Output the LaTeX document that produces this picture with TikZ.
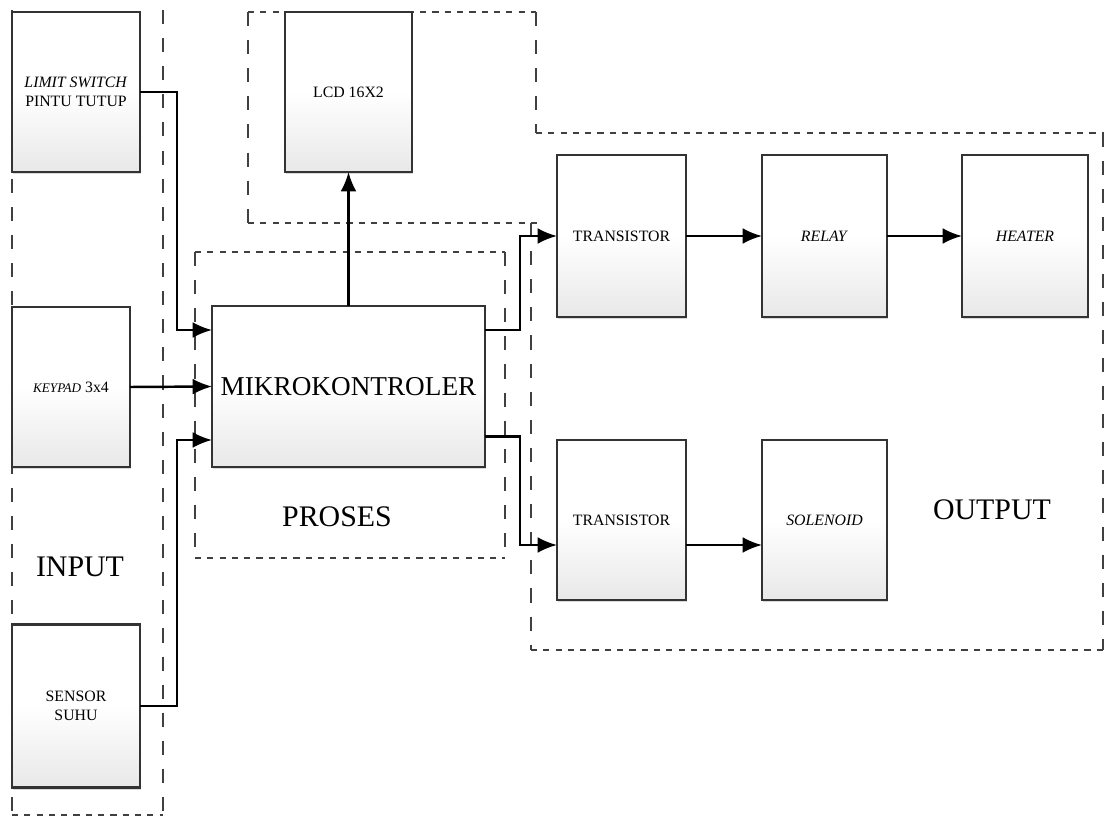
\documentclass[tikz,border=0pt]{standalone}
\usepackage{fontspec}
\setmainfont{Liberation Serif}
\usetikzlibrary{positioning,arrows.meta,shadows}

\begin{document}
\begin{tikzpicture}[x=0.02cm,y=-0.02cm,
    blok/.style={draw=black!80,line width=1.5pt,top color=white,bottom color=black!9,middle color=white,
      drop shadow={shadow xshift=0.5pt,shadow yshift=-1.2pt,opacity=0.3},
      align=center,inner sep=2pt,outer sep=0pt,font=\fontsize{9}{10.5}\selectfont},
    panah/.style={line width=1.4pt,-{Latex[length=11pt,width=9pt]}},
    garish/.style={black!75,line width=1.6pt,dash pattern=on 3.5pt off 3.5pt},
    garisv/.style={black!75,line width=0.9pt,dash pattern=on 8pt off 8pt},
    judul/.style={font=\fontsize{17}{20}\selectfont}]

  \useasboundingbox (0,0) rectangle (1106,824);

  % area input
  \draw[garisv] (12,10) -- (12,815);
  \draw[garisv] (163,10) -- (163,815);
  \draw[garish] (12,815) -- (163,815);

  % area lcd
  \draw[garisv] (248,12) -- (248,223);
  \draw[garish] (248,12) -- (536,12);
  \draw[garisv] (536,12) -- (536,133);
  \draw[garish] (248,223) -- (540,223);

  % area output
  \draw[garish] (536,133) -- (1104,133);
  \draw[garisv] (531,223) -- (531,650);
  \draw[garish] (531,650) -- (1104,650);
  \draw[garisv] (1103,133) -- (1103,650);

  % area proses
  \draw[garish] (195,252) -- (505,252);
  \draw[garisv] (195,252) -- (195,558);
  \draw[garisv] (505,252) -- (505,558);
  \draw[garish] (195,558) -- (505,558);

  \node[blok,minimum width=2.56cm,minimum height=3.2cm] (limit) at (76,92) {\textit{LIMIT SWITCH}\\PINTU TUTUP};
  \node[blok,minimum width=2.36cm,minimum height=3.2cm] (keypad) at (71,387) {{\fontsize{7.5}{9}\selectfont\itshape KEYPAD} 3x4};
  \node[blok,minimum width=2.56cm,minimum height=3.26cm] (sensor) at (76,706) {SENSOR\\SUHU};
  \node[blok,minimum width=5.46cm,minimum height=3.22cm,font=\fontsize{15.5}{18}\selectfont] (mikro) at (348.5,386.5) {MIKROKONTROLER};
  \node[blok,minimum width=2.54cm,minimum height=3.2cm] (lcd) at (348.5,92) {LCD 16X2};
  \node[blok,minimum width=2.58cm,minimum height=3.24cm] (tr1) at (621.5,236) {TRANSISTOR};
  \node[blok,minimum width=2.5cm,minimum height=3.24cm] (relay) at (824.5,236) {\textit{RELAY}};
  \node[blok,minimum width=2.52cm,minimum height=3.24cm] (heater) at (1025,236) {\textit{HEATER}};
  \node[blok,minimum width=2.58cm,minimum height=3.2cm] (tr2) at (621.5,520) {TRANSISTOR};
  \node[blok,minimum width=2.5cm,minimum height=3.2cm] (solenoid) at (824.5,520) {\textit{SOLENOID}};

  \node[judul] (input) at (80,567) {INPUT};
  \node[judul] (proses) at (337,517) {PROSES};
  \node[judul] (output) at (992,510) {OUTPUT};

  \draw[panah] (limit.east) -- ++(37,0) |- ([yshift=1.13cm]mikro.west);
  \draw[panah] (keypad.east) -- (mikro.west);
  \draw[panah] (sensor.east) -- ++(37,0) |- ([yshift=-1.07cm]mikro.west);
  \draw[panah] (mikro.north) -- (lcd.south);
  \draw[panah] ([yshift=1.13cm]mikro.east) -- ++(35,0) |- (tr1.west);
  \draw[panah] ([yshift=-1.0cm]mikro.east) -- ++(35,0) |- ([yshift=-0.5cm]tr2.west);
  \draw[panah] (tr1) -- (relay);
  \draw[panah] (relay) -- (heater);
  \draw[panah] ([yshift=-0.5cm]tr2.east) -- ([yshift=-0.5cm]solenoid.west);
\end{tikzpicture}
\end{document}
